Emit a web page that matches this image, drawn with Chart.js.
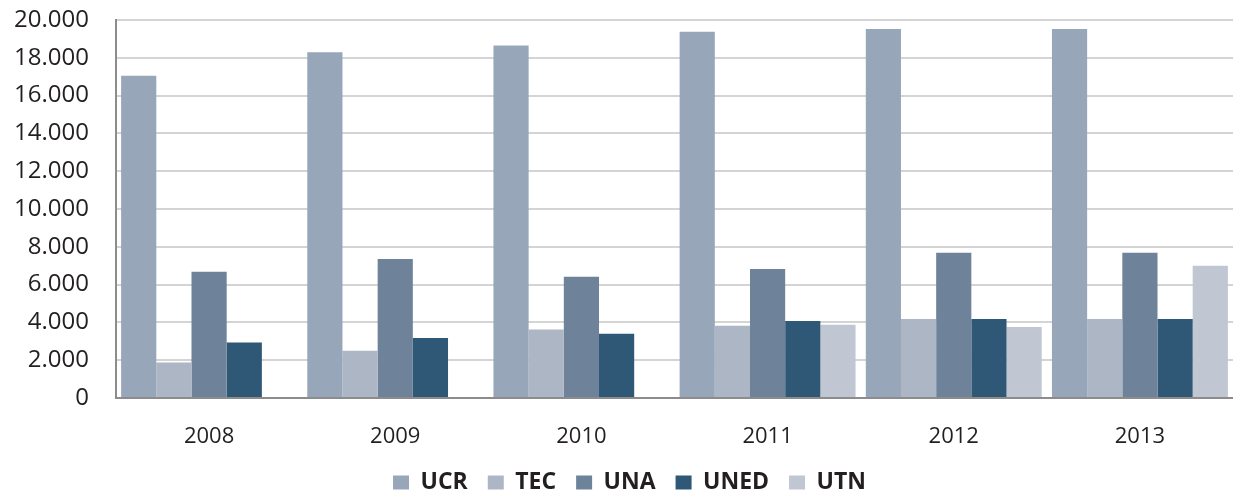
<!DOCTYPE html>
<html>
<head>
<meta charset="utf-8">
<script src="https://cdn.jsdelivr.net/npm/chart.js@4.4.1/dist/chart.umd.min.js"></script>
<style>
html,body{margin:0;padding:0;background:#fff;}
#wrap{width:1233px;height:494px;position:relative;}
</style>
</head>
<body>
<div id="wrap"><canvas id="c" width="1233" height="494"></canvas></div>
<script>
const years = ["2008","2009","2010","2011","2012","2013"];
const seriesNames = ["UCR","TEC","UNA","UNED","UTN"];
const ucr  = [17050, 18300, 18650, 19380, 19530, 19530];
const tec  = [1880, 2500, 3620, 3820, 4180, 4180];
const una  = [6680, 7350, 6420, 6830, 7680, 7680];
const uned = [2930, 3180, 3400, 4080, 4180, 4180];
const utn  = [null, null, null, 3870, 3760, 7000];
const yTicks = [0,2000,4000,6000,8000,10000,12000,14000,16000,18000,20000];
const colors = ["#97a6b8","#adb6c4","#6e8399","#2f5776","#c0c6d2"];
const allSeries = [ucr, tec, una, uned, utn];

function fmt(v){ return String(v).replace(/\B(?=(\d{3})+(?!\d))/g, "."); }

const shiftLegend = {
  id: 'shiftLegend',
  afterLayout(chart) {
    const L = chart.legend;
    if (L) { L.left += 8; L.right += 8; }
  }
};

new Chart(document.getElementById('c'), {
  type: 'bar',
  data: {
    labels: years,
    datasets: seriesNames.map((n,i)=>({
      label: n,
      data: allSeries[i],
      backgroundColor: colors[i],
      borderWidth: 0,
      categoryPercentage: 0.945,
      barPercentage: 1.0
    }))
  },
  plugins: [shiftLegend],
  options: {
    responsive: false,
    animation: false,
    devicePixelRatio: 1,
    layout: { padding: { left: 10, right: 0, top: 20, bottom: -10 } },
    plugins: {
      tooltip: { enabled: false },
      legend: {
        position: 'bottom',
        labels: {
          font: { family: "'Open Sans'", size: 23, weight: 'bold' },
          color: '#231f20',
          boxWidth: 16,
          boxHeight: 14,
          padding: 20
        }
      }
    },
    scales: {
      x: {
        afterFit: (s) => { s.height = 53; },
        grid: { display: false, drawTicks: false },
        border: { display: true, color: '#8c8c8c', width: 2 },
        ticks: {
          font: { family: "'Open Sans'", size: 22 },
          color: '#231f20',
          padding: 26
        }
      },
      y: {
        min: 0,
        max: 20000,
        afterBuildTicks: (s) => { s.ticks = yTicks.map(v=>({value:v})); },
        afterFit: (s) => { s.width = 106; s.paddingTop = 0; s.paddingBottom = 0; },
        grid: { color: '#d4d4d4', lineWidth: 2, drawTicks: false },
        border: { display: true, color: '#8c8c8c', width: 2 },
        ticks: {
          font: { family: "'Open Sans'", size: 24 },
          color: '#231f20',
          padding: 27,
          callback: (v) => fmt(v)
        }
      }
    }
  }
});
</script>
</body>
</html>
